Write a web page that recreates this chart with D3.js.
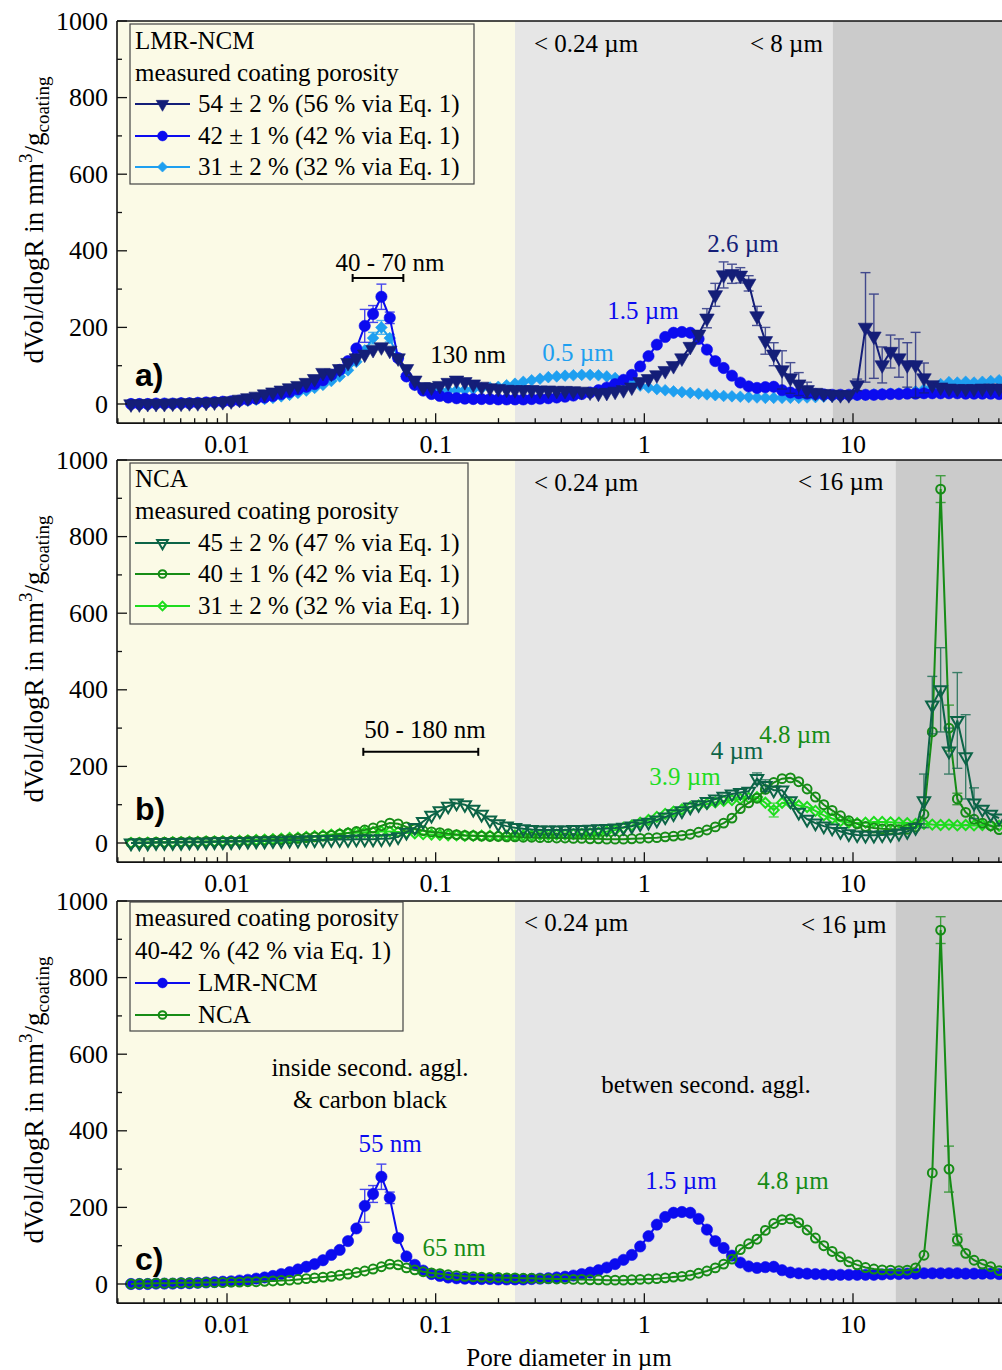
<!DOCTYPE html>
<html><head><meta charset="utf-8">
<script src="https://cdn.jsdelivr.net/npm/d3@7"></script>
<style>
body{margin:0;background:#fff}
svg text{font-family:"Liberation Serif","Times New Roman",serif;}
</style>
</head><body>
<svg id="c" width="1002" height="1370"></svg>
<script>
// ---------- DATA ----------
const diam = [
 0.003467,0.003802,0.004169,0.004571,0.005012,0.005495,0.006026,0.006607,0.007244,0.007943,
 0.008710,0.009550,0.01047,0.01148,0.01259,0.01380,0.01514,0.01660,0.01820,0.01995,
 0.02188,0.02399,0.02630,0.02884,0.03162,0.03467,0.03802,0.04169,0.04571,0.05012,
 0.05495,0.06026,0.06607,0.07244,0.07943,0.08710,0.09550,0.1047,0.1148,0.1259,
 0.1380,0.1514,0.1660,0.1820,0.1995,0.2188,0.2399,0.2630,0.2884,0.3162,
 0.3467,0.3802,0.4169,0.4571,0.5012,0.5495,0.6026,0.6607,0.7244,0.7943,
 0.8710,0.9550,1.047,1.148,1.259,1.380,1.514,1.660,1.820,1.995,
 2.188,2.399,2.630,2.884,3.162,3.467,3.802,4.169,4.571,5.012,
 5.495,6.026,6.607,7.244,7.943,8.710,9.550,10.47,11.48,12.59,
 13.80,15.14,16.60,18.20,19.95,21.88,23.99,26.30,28.84,31.62,
 34.67,38.02,41.69,45.71,50.12];

const lmr54 = [
 0,0,1,1,1,2,2,3,3,4,
 5,6,8,12,16,20,26,31,36,42,
 48,56,66,82,80,92,108,120,130,142,
 149,140,120,92,62,45,44,48,56,62,
 58,52,46,42,40,38,37,37,37,36,
 36,35,35,34,33,31,28,30,33,37,
 44,58,66,76,87,100,120,150,182,224,
 285,337,340,336,315,230,165,130,89,68,
 52,37,30,27,25,24,24,50,200,177,
 102,137,120,102,102,68,50,44,41,40,
 40,40,41,41,41];
const lmr42 = [
 0,0,0,1,1,1,2,2,3,4,
 5,6,7,9,11,14,17,21,26,31,
 38,45,52,62,76,89,112,145,204,235,
 280,225,120,72,50,35,26,21,17,15,
 14,13,13,13,12,12,12,12,13,14,
 15,17,19,22,26,30,36,43,52,63,
 76,98,125,155,175,186,188,186,170,142,
 112,94,74,56,46,42,44,45,36,30,
 28,27,26,25,24,24,24,24,24,24,
 25,26,26,27,27,28,28,28,28,28,
 27,27,27,27,26];
const lmr31 = [
 0,0,0,1,1,1,2,2,3,3,
 4,5,6,7,9,11,13,16,20,24,
 29,35,42,50,60,72,88,110,140,172,
 200,172,120,72,50,40,36,35,35,36,
 37,39,41,43,45,49,53,58,62,66,
 70,72,74,75,76,76,75,72,68,62,
 54,48,43,39,36,33,31,29,27,25,
 23,21,20,19,18,17,16,16,16,16,
 16,17,18,19,20,21,22,23,24,25,
 26,27,28,30,33,38,44,52,57,56,
 58,56,58,60,62];
const nca45 = [
 0,0,0,1,1,1,1,2,2,2,
 3,3,3,4,4,5,5,6,6,7,
 7,8,8,8,9,9,9,10,10,10,
 11,12,16,28,40,56,72,84,96,104,
 100,88,75,60,50,44,40,37,35,34,
 34,34,34,35,35,36,37,38,39,41,
 44,50,54,60,68,76,84,94,100,108,
 115,122,128,132,135,168,150,138,138,110,
 80,62,52,44,39,30,24,21,20,20,
 21,22,25,30,40,110,360,400,240,320,
 225,104,88,75,65];
const nca40 = [
 0,1,1,2,2,2,3,3,3,4,
 4,4,5,5,6,6,7,8,9,10,
 12,14,16,18,20,23,26,30,34,39,
 45,52,50,42,37,32,29,27,24,22,
 20,19,18,17,17,16,16,15,15,14,
 14,13,13,12,12,11,11,10,10,10,
 11,12,13,14,16,18,20,23,28,34,
 42,52,65,90,105,117,140,158,168,170,
 160,141,120,100,85,71,58,50,43,39,
 37,36,35,36,42,75,290,924,300,115,
 80,62,52,45,35];
const nca31 = [
 0,0,1,1,1,2,2,3,3,4,
 4,5,5,6,7,8,9,10,11,13,
 14,16,18,20,22,24,26,27,28,29,
 30,30,29,27,25,23,22,21,20,20,
 19,19,19,19,19,19,20,20,20,21,
 21,22,22,23,24,25,27,30,34,40,
 46,53,60,68,76,82,88,94,98,102,
 106,110,112,115,118,120,105,86,105,104,
 98,94,84,72,64,57,53,52,53,55,
 55,54,53,52,50,50,48,47,48,46,
 47,46,47,45,45];

// error bars: [point index, +/- error]
const errLmr54 = [[69,25],[70,30],[71,34],[72,25],[73,20],[74,20],[75,25],[76,35],[77,30],[78,50],[79,40],[80,30],[81,20],[87,15],[88,143],[89,110],[90,47],[91,43],[92,50],[93,58],[94,85],[95,39]];
const errLmr42 = [[28,43],[29,22],[30,33],[31,15],[32,8]];
const errLmr31 = [[29,15],[30,18],[31,10]];
const errNca45 = [[75,15],[76,15],[95,70],[96,75],[97,110],[98,60],[99,125],[100,110],[101,40]];
const errNca40 = [[97,35],[98,60],[99,15]];
const errNca31 = [[77,18]];

const xTicks = [0.01, 0.1, 1, 10];
const xTickLabels = ["0.01", "0.1", "1", "10"];
const yTicks = [0, 200, 400, 600, 800, 1000];

// ---------- STYLE / LAYOUT ----------
const C = {navy:"#141e78", blue:"#0b0bef", lblue:"#1e9ff0", dgreen:"#0c6447", green:"#168c16", bgreen:"#1edc1e"};
const series = {
  lmr54:{vals:lmr54, err:errLmr54, color:C.navy, sym:"tri", open:false},
  lmr42:{vals:lmr42, err:errLmr42, color:C.blue, sym:"circ", open:false},
  lmr31:{vals:lmr31, err:errLmr31, color:C.lblue, sym:"dia", open:false},
  nca45:{vals:nca45, err:errNca45, color:C.dgreen, sym:"tri", open:true},
  nca40:{vals:nca40, err:errNca40, color:C.green, sym:"circ", open:true},
  nca31:{vals:nca31, err:errNca31, color:C.bgreen, sym:"dia", open:true}
};

const svg = d3.select("#c");
const x = d3.scaleLog().domain([0.01, 10]).range([227, 853]);
const plotL = 117, plotR = 1004;

function symbolFor(s, small){
  let t, size, rot = 0;
  if(s.sym==="tri"){ t=d3.symbolTriangle; size = s.open?66:92; rot=180; }
  else if(s.sym==="circ"){ t=d3.symbolCircle; size = s.open?62:100; }
  else { t=d3.symbolSquare; size = s.open?50:68; rot=45; }
  if(small) size *= 0.75;
  return {path:d3.symbol(t, size)(), rot};
}

function drawMarker(g, s, cx, cy, small){
  const m = symbolFor(s, small);
  g.append("path").attr("d", m.path)
    .attr("transform", `translate(${cx},${cy}) rotate(${m.rot})`)
    .attr("fill", s.open ? "none" : s.color)
    .attr("stroke", s.color)
    .attr("stroke-width", s.open ? 2 : 0.6);
}

function drawSeries(g, s, y){
  const pts = diam.map((d,i)=>({d, v:s.vals[i], i}));
  const eg = g.append("g").attr("stroke", s.color).attr("stroke-width",1.4).attr("opacity",0.75);
  s.err.forEach(([i,e])=>{
    const cx = x(diam[i]), y1 = y(s.vals[i]+e), y2 = y(Math.max(s.vals[i]-e, -45));
    eg.append("line").attr("x1",cx).attr("x2",cx).attr("y1",y1).attr("y2",y2);
    eg.append("line").attr("x1",cx-5).attr("x2",cx+5).attr("y1",y1).attr("y2",y1);
    eg.append("line").attr("x1",cx-5).attr("x2",cx+5).attr("y1",y2).attr("y2",y2);
  });
  g.append("path").datum(pts)
    .attr("d", d3.line().x(p=>x(p.d)).y(p=>y(p.v)))
    .attr("fill","none").attr("stroke", s.color).attr("stroke-width",2);
  const mg = g.append("g");
  pts.forEach(p=> drawMarker(mg, s, x(p.d), y(p.v)));
}

const panels = [
  { id:"a", zero:404, grayEnd:8, order:["lmr31","lmr42","lmr54"], label:"a)", labelY:386,
    legend:{x:130, y:24, w:344, h:160, head:["LMR-NCM","measured coating porosity"], headY:[49,81],
            items:[["lmr54","54 ± 2 % (56 % via Eq. 1)",104],["lmr42","42 ± 1 % (42 % via Eq. 1)",136],["lmr31","31 ± 2 % (32 % via Eq. 1)",167]]},
    ann:[["< 0.24 µm",534,52,"start","#000"],["< 8 µm",750,52,"start","#000"],["40 - 70 nm",390,271,"middle","#000"],
         ["130 nm",468,363,"middle","#000"],["0.5 µm",578,361,"middle",C.lblue],["1.5 µm",643,319,"middle",C.blue],["2.6 µm",743,252,"middle",C.navy]],
    range:{from:0.04, to:0.07, v:329} },
  { id:"b", zero:843, grayEnd:16, order:["nca31","nca40","nca45"], label:"b)", labelY:820,
    legend:{x:130, y:463, w:338, h:161, head:["NCA","measured coating porosity"], headY:[487,519],
            items:[["nca45","45 ± 2 % (47 % via Eq. 1)",543],["nca40","40 ± 1 % (42 % via Eq. 1)",574],["nca31","31 ± 2 % (32 % via Eq. 1)",606]]},
    ann:[["< 0.24 µm",534,491,"start","#000"],["< 16 µm",798,490,"start","#000"],["50 - 180 nm",425,738,"middle","#000"],
         ["3.9 µm",685,785,"middle",C.bgreen],["4 µm",737,759,"middle",C.dgreen],["4.8 µm",795,743,"middle",C.green]],
    range:{from:0.045, to:0.16, v:238} },
  { id:"c", zero:1284, grayEnd:16, order:["lmr42","nca40"], label:"c)", labelY:1270,
    legend:{x:130, y:902, w:273, h:129, head:["measured coating porosity","40-42 % (42 % via Eq. 1)"], headY:[926,959],
            items:[["lmr42","LMR-NCM",983],["nca40","NCA",1015]]},
    ann:[["< 0.24 µm",524,931,"start","#000"],["< 16 µm",801,933,"start","#000"],["inside second. aggl.",370,1076,"middle","#000"],
         ["& carbon black",370,1108,"middle","#000"],["betwen second. aggl.",706,1093,"middle","#000"],["55 nm",390,1152,"middle",C.blue],
         ["1.5 µm",681,1189,"middle",C.blue],["4.8 µm",793,1189,"middle",C.green],["65 nm",454,1256,"middle",C.green]],
    range:null }
];

function drawPanel(p){
  const y = d3.scaleLinear().domain([0,1000]).range([p.zero, p.zero-383]);
  const top = y(1000), bot = y(-50);
  const g = svg.append("g");
  const clipId = "clip"+p.id;
  svg.append("clipPath").attr("id",clipId).append("rect")
    .attr("x",plotL).attr("y",top).attr("width",plotR-plotL).attr("height",bot-top);
  g.append("rect").attr("x",plotL).attr("y",top).attr("width",x(0.24)-plotL).attr("height",bot-top).attr("fill","#fbfae6");
  g.append("rect").attr("x",x(0.24)).attr("y",top).attr("width",x(p.grayEnd)-x(0.24)).attr("height",bot-top).attr("fill","#e6e6e6");
  g.append("rect").attr("x",x(p.grayEnd)).attr("y",top).attr("width",plotR-x(p.grayEnd)).attr("height",bot-top).attr("fill","#cbcbcb");

  p.ann.forEach(([t,ax,ay,anc,col])=>{
    g.append("text").attr("x",ax).attr("y",ay).attr("text-anchor",anc).attr("fill",col)
      .style("font-size","25px").text(t);
  });
  if(p.range){
    const rg = g.append("g").attr("stroke","#000").attr("stroke-width",2);
    const yy = y(p.range.v), x1 = x(p.range.from), x2 = x(p.range.to);
    rg.append("line").attr("x1",x1).attr("x2",x2).attr("y1",yy).attr("y2",yy);
    rg.append("line").attr("x1",x1).attr("x2",x1).attr("y1",yy-4).attr("y2",yy+4);
    rg.append("line").attr("x1",x2).attr("x2",x2).attr("y1",yy-4).attr("y2",yy+4);
  }

  const sg = g.append("g").attr("clip-path",`url(#${clipId})`);
  p.order.forEach(k=> drawSeries(sg, series[k], y));

  const fg = g.append("g").attr("stroke","#111").attr("stroke-width",1.6);
  fg.append("line").attr("x1",plotL).attr("x2",plotL).attr("y1",top).attr("y2",bot);
  fg.append("line").attr("x1",plotL).attr("x2",plotR).attr("y1",bot).attr("y2",bot);
  fg.append("line").attr("x1",plotL).attr("x2",plotR).attr("y1",top).attr("y2",top);
  d3.range(0,1001,100).forEach(v=>{
    const major = v%200===0;
    fg.append("line").attr("x1",plotL).attr("x2",plotL+(major?10:5)).attr("y1",y(v)).attr("y2",y(v)).attr("stroke-width",1.3);
  });
  yTicks.forEach(v=>{
    g.append("text").attr("x",108).attr("y",y(v)+8.5).attr("text-anchor","end").style("font-size","26px").text(v);
  });
  const xmin = x.invert(plotL), xmax = x.invert(1002);
  for(let n=-3;n<=1;n++){
    for(let k=1;k<=9;k++){
      const val = k*Math.pow(10,n);
      if(val<xmin || val>xmax) continue;
      fg.append("line").attr("x1",x(val)).attr("x2",x(val)).attr("y1",bot).attr("y2",bot-(k===1?10:5)).attr("stroke-width",1.3);
    }
  }
  xTicks.forEach((v,i)=>{
    g.append("text").attr("x",x(v)).attr("y",bot+30).attr("text-anchor","middle").style("font-size","26px").text(xTickLabels[i]);
  });

  g.append("text").attr("x",135).attr("y",p.labelY).style("font-family","'Liberation Sans',Arial,sans-serif")
    .style("font-weight","bold").style("font-size","32px").attr("fill","#000").text(p.label);

  const L = p.legend;
  g.append("rect").attr("x",L.x).attr("y",L.y).attr("width",L.w).attr("height",L.h)
    .attr("fill","none").attr("stroke","#444").attr("stroke-width",1.2);
  L.head.forEach((t,i)=> g.append("text").attr("x",135).attr("y",L.headY[i]).style("font-size","25px").text(t));
  L.items.forEach(([k,t,cy])=>{
    const s = series[k];
    g.append("line").attr("x1",135).attr("x2",190).attr("y1",cy).attr("y2",cy).attr("stroke",s.color).attr("stroke-width",1.8);
    drawMarker(g, s, 162.5, cy, true);
    g.append("text").attr("x",198).attr("y",cy+8).style("font-size","25px").text(t);
  });

  const cy = (top+bot)/2 - 2;
  const tt = g.append("text").attr("transform",`translate(43,${cy}) rotate(-90)`).attr("text-anchor","middle").style("font-size","27px");
  tt.append("tspan").text("dVol/dlogR in mm");
  tt.append("tspan").attr("dy",-11).style("font-size","19px").text("3");
  tt.append("tspan").attr("dy",11).text("/g");
  tt.append("tspan").attr("dy",6).style("font-size","19px").text("coating");
}

panels.forEach(drawPanel);

svg.append("text").attr("x",569).attr("y",1366).attr("text-anchor","middle").style("font-size","25px").text("Pore diameter in µm");
</script>
</body></html>
